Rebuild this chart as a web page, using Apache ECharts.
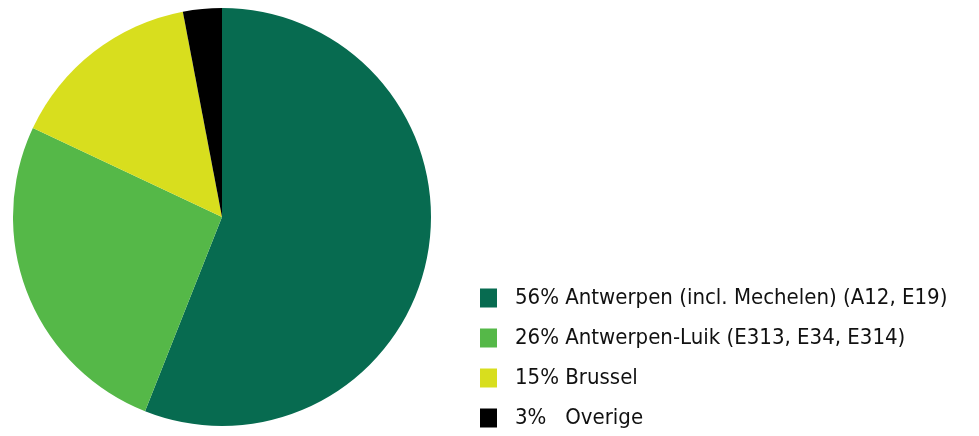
<!DOCTYPE html>
<html>
<head>
<meta charset="utf-8">
<script src="https://cdn.jsdelivr.net/npm/echarts@6/dist/echarts.min.js"></script>
<style>
html,body{margin:0;padding:0;background:#fff;}
#chart{width:979px;height:436px;}
</style>
</head>
<body>
<div id="chart"></div>
<script>
var categories = ["56% Antwerpen (incl. Mechelen) (A12, E19)", "26% Antwerpen-Luik (E313, E34, E314)", "15% Brussel", "3%   Overige"];
var values = [56, 26, 15, 3];
var colors = ["#076B50", "#55B848", "#D8DE1E", "#000000"];

var chart = echarts.init(document.getElementById('chart'));
chart.setOption({
  animation: false,
  backgroundColor: '#ffffff',
  color: colors,
  legend: {
    orient: 'vertical',
    left: 475,
    top: 282,
    height: 200,
    padding: 5,
    itemWidth: 17,
    itemHeight: 19,
    itemGap: 18,
    icon: 'rect',
    textStyle: {
      fontFamily: '"Liberation Sans Narrow", "DejaVu Sans Condensed", sans-serif',
      fontSize: 22,
      color: '#111',
      padding: [0, 0, 0, 13]
    },
    data: categories
  },
  series: [{
    type: 'pie',
    center: [222, 217],
    radius: [0, 209],
    startAngle: 90,
    clockwise: true,
    label: {show: false},
    labelLine: {show: false},
    itemStyle: {borderWidth: 0},
    emphasis: {disabled: true},
    data: categories.map(function (c, i) { return {name: c, value: values[i]}; })
  }]
});
</script>
</body>
</html>
